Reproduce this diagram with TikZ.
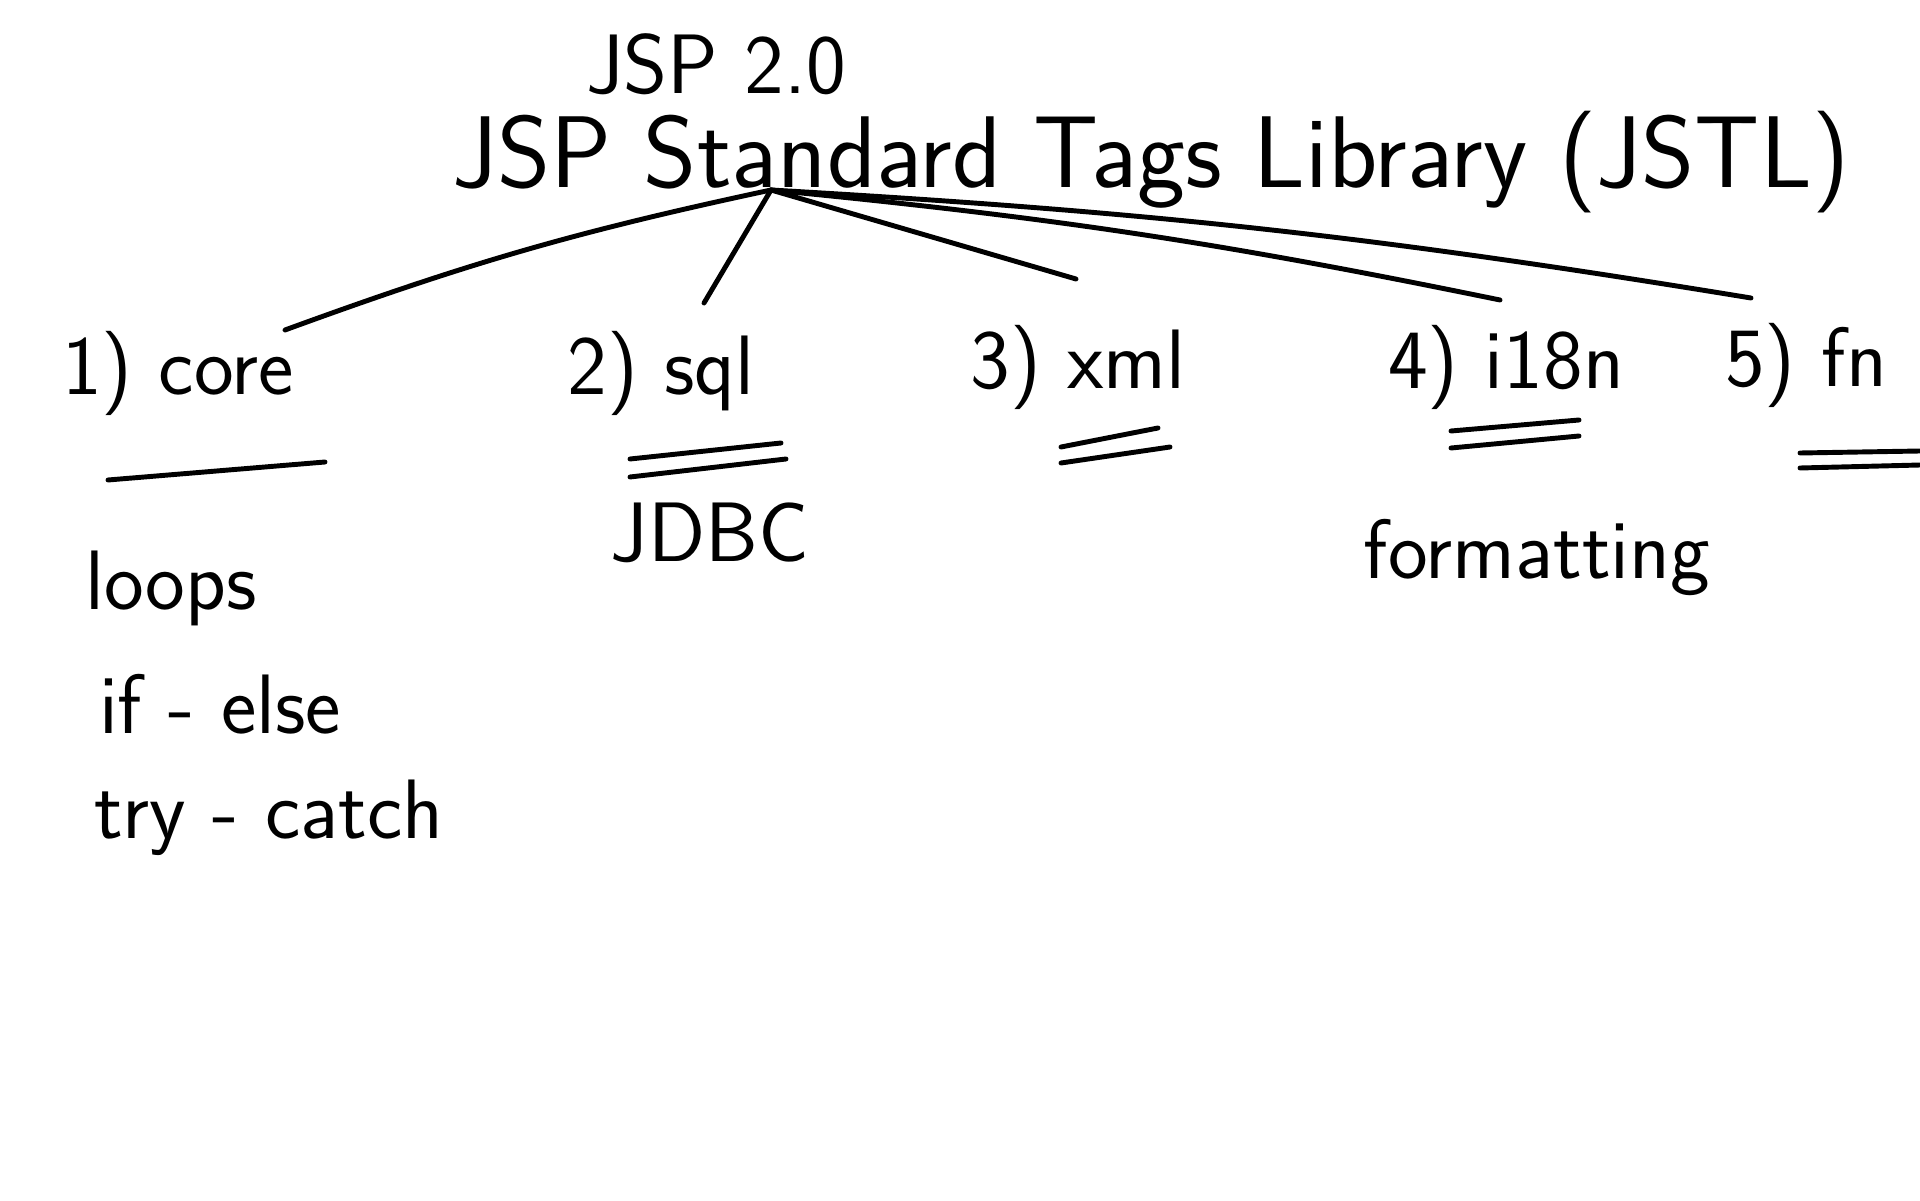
\documentclass[tikz,border=0pt]{standalone}
\usetikzlibrary{positioning, calc}

\begin{document}
\begin{tikzpicture}[lbl/.style={font=\sffamily\fontsize{24}{28}\selectfont, inner sep=2pt},
  head/.style={font=\sffamily\fontsize{29}{34}\selectfont, inner sep=2pt},
  pen/.style={line width=1.4pt, line cap=round, black}]
  \useasboundingbox (0,0) rectangle (19.2,12);
  \node[lbl] (ver) at (7.16,11.36) {JSP 2.0};
  \node[head] (jstl) at (11.51,10.38) {JSP Standard Tags Library (JSTL)};
  \coordinate (hub) at (7.71,10.10);
  \node[lbl] (core) at (1.78,8.27) {1)\ core};
  \node[lbl] (sql) at (6.61,8.27) {2)\ sql};
  \node[lbl] (xml) at (10.78,8.33) {3)\ xml};
  \node[lbl] (intl) at (15.06,8.33) {4)\ i18n};
  \node[lbl] (fn) at (18.06,8.35) {5)\ fn};
  \node[lbl] (jdbc) at (7.10,6.67) {JDBC};
  \node[lbl] (fmt) at (15.37,6.43) {formatting};
  \node[lbl] (loops) at (1.71,6.12) {loops};
  \node[lbl] (ifelse) at (2.20,4.96) {if - else};
  \node[lbl] (try) at (2.69,3.82) {try - catch};
  \draw[pen] (hub) to[bend right=4] ($(core)+(1.07,0.43)$);
  \draw[pen] (hub) -- ($(sql)+(0.43,0.70)$);
  \draw[pen] (hub) -- ($(xml)+(-0.02,0.88)$);
  \draw[pen] (hub) to[bend left=3] ($(intl)+(-0.06,0.67)$);
  \draw[pen] (hub) to[bend left=3] ($(fn)+(-0.55,0.67)$);
  \draw[pen] ($(core)+(-0.70,-1.07)$) -- ($(core)+(1.47,-0.89)$);
  \draw[pen] ($(sql)+(-0.31,-0.86)$) -- ($(sql)+(1.20,-0.70)$);
  \draw[pen] ($(sql)+(-0.31,-1.04)$) -- ($(sql)+(1.25,-0.86)$);
  \draw[pen] ($(xml)+(-0.17,-0.80)$) -- ($(xml)+(0.80,-0.61)$);
  \draw[pen] ($(xml)+(-0.17,-0.96)$) -- ($(xml)+(0.92,-0.80)$);
  \draw[pen] ($(intl)+(-0.55,-0.64)$) -- ($(intl)+(0.73,-0.53)$);
  \draw[pen] ($(intl)+(-0.55,-0.81)$) -- ($(intl)+(0.73,-0.69)$);
  \draw[pen] ($(fn)+(-0.06,-0.88)$) -- ($(fn)+(1.14,-0.86)$);
  \draw[pen] ($(fn)+(-0.06,-1.03)$) -- ($(fn)+(1.14,-1.00)$);
\end{tikzpicture}
\end{document}
